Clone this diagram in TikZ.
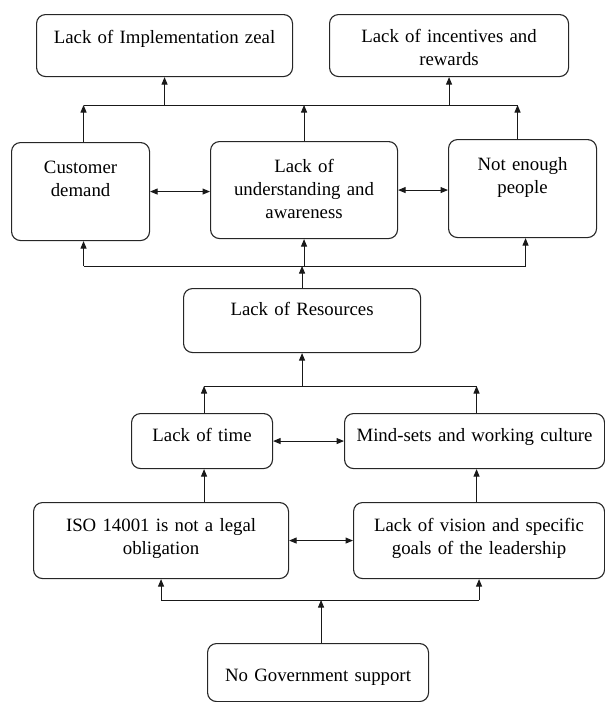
\documentclass[tikz,border=0pt]{standalone}
\usepackage{fontspec}
\setmainfont{Liberation Serif}
\usetikzlibrary{arrows.meta}

\tikzset{
  barrier/.style={draw=black!85, line width=1.1pt, rounded corners=9pt, inner sep=0pt,
    align=center, anchor=north west, font=\fontsize{18.8}{23}\selectfont},
  boxdim/.style n args={3}{text width=#1pt, text height=#2pt, text depth=#3pt},
  bus/.style={draw=black!90, line width=1pt},
  link/.style={bus, -{Triangle[length=7.5pt, width=6pt]}},
  twoway/.style={bus, {Triangle[length=7.5pt, width=6pt]}-{Triangle[length=7.5pt, width=6pt]}}
}

\begin{document}
\begin{tikzpicture}[x=1pt, y=-1pt]
\useasboundingbox (0,0) rectangle (605,702);

\node[barrier, boxdim={256}{29}{33}] (impl) at (36,14) {Lack of Implementation zeal};
\node[barrier, boxdim={239}{28}{34}] (inc) at (329,14) {Lack of incentives and\\ rewards};
\node[barrier, boxdim={138}{31}{67}] (cd) at (11,142) {Customer\\ demand};
\node[barrier, boxdim={187}{31}{66}] (lua) at (210,141) {Lack of\\ understanding and\\ awareness};
\node[barrier, boxdim={148}{31}{67}] (nep) at (448,139) {Not enough\\ people};
\node[barrier, boxdim={237}{27}{37}] (res) at (183,288) {Lack of Resources};
\node[barrier, boxdim={141}{28}{27}] (lot) at (131,413) {Lack of time};
\node[barrier, boxdim={260}{28}{27}] (ms) at (344,413) {Mind-sets and working culture};
\node[barrier, boxdim={255}{29}{47}] (iso) at (33,502) {ISO 14001 is not a legal\\ obligation};
\node[barrier, boxdim={251}{29}{47}] (vis) at (353,502) {Lack of vision and specific\\ goals of the leadership};
\node[barrier, boxdim={221}{38}{20}] (gov) at (207,643) {No Government support};

\coordinate (topbus) at (0,105);
\coordinate (midbus) at (0,266);
\coordinate (resbus) at (0,386);
\coordinate (govbus) at (0,600);

% upper level
\draw[link] ([xshift=3pt]cd.north) -- ([xshift=3pt]cd.north |- topbus);
\draw[link] (lua.north) -- (lua.north |- topbus);
\draw[link] ([xshift=-5pt]nep.north) -- ([xshift=-5pt]nep.north |- topbus);
\draw[bus] ([xshift=3pt]cd.north |- topbus) -- ([xshift=-5pt]nep.north |- topbus);
\draw[link] (impl.south |- topbus) -- (impl.south);
\draw[link] (inc.south |- topbus) -- (inc.south);

\draw[twoway] (cd.east) -- (cd.east -| lua.west);
\draw[twoway] (lua.east) -- (lua.east -| nep.west);

% resources
\draw[link] (res.north) -- (res.north |- midbus);
\draw[bus] ([xshift=3pt]cd.south |- midbus) -- ([xshift=3pt]nep.south |- midbus);
\draw[link] ([xshift=3pt]cd.south |- midbus) -- ([xshift=3pt]cd.south);
\draw[link] (lua.south |- midbus) -- (lua.south);
\draw[link] ([xshift=3pt]nep.south |- midbus) -- ([xshift=3pt]nep.south);

\draw[link] ([xshift=2pt]lot.north) -- ([xshift=2pt]lot.north |- resbus);
\draw[link] ([xshift=2pt]ms.north) -- ([xshift=2pt]ms.north |- resbus);
\draw[bus] ([xshift=2pt]lot.north |- resbus) -- ([xshift=2pt]ms.north |- resbus);
\draw[link] (res.south |- resbus) -- (res.south);

\draw[twoway] (lot.east) -- (lot.east -| ms.west);

% lower level
\draw[link] ([xshift=2pt]lot.south |- iso.north) -- ([xshift=2pt]lot.south);
\draw[link] ([xshift=2pt]ms.south |- vis.north) -- ([xshift=2pt]ms.south);
\draw[twoway] (iso.east) -- (iso.east -| vis.west);

\draw[link] ([xshift=3pt]gov.north) -- ([xshift=3pt]gov.north |- govbus);
\draw[bus] (iso.south |- govbus) -- (vis.south |- govbus);
\draw[link] (iso.south |- govbus) -- (iso.south);
\draw[link] (vis.south |- govbus) -- (vis.south);

\end{tikzpicture}
\end{document}
